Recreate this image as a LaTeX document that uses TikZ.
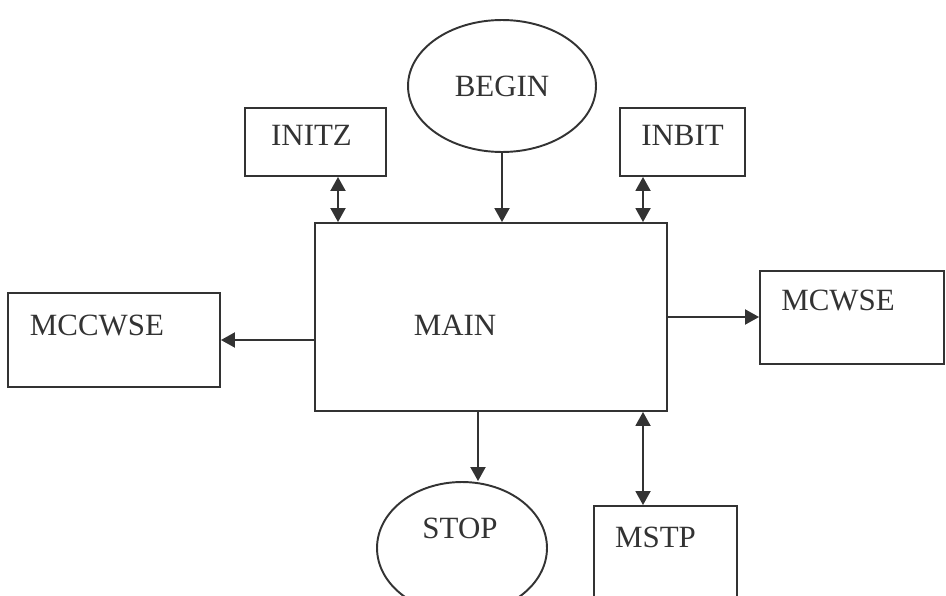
\documentclass[tikz,border=0pt]{standalone}
\usepackage{fontspec}
\setmainfont{Liberation Serif}
\usetikzlibrary{shapes.geometric,arrows.meta,positioning,calc}

\tikzset{
  module/.style={draw, rectangle, inner sep=0pt},
  terminal/.style={draw, ellipse, inner sep=0pt},
}

\begin{document}
\begin{tikzpicture}[x=0.02cm, y=-0.02cm, line width=1.1pt, color=black!80,
    font=\fontsize{17.6}{20}\selectfont,
    >={Triangle[length=0.28cm,width=0.3cm]}]
    \useasboundingbox (0,0) rectangle (946,595);
    \clip (0,0) rectangle (946,595);

    % Start and end
    \node[terminal, minimum width=3.76cm, minimum height=2.64cm] (begin) at (502,86) {BEGIN};
    \node[terminal, minimum width=3.4cm, minimum height=2.64cm,
          label={[shift={(-2,-20)}]center:STOP}] (stop) at (462,548) {};

    % Main routine
    \node[module, minimum width=7.04cm, minimum height=3.76cm,
          label={[shift={(-36,8)}]center:MAIN}] (main) at (491,317) {};

    % Subroutines
    \node[module, minimum width=2.82cm, minimum height=1.36cm,
          label={[shift={(-4,-7)}]center:INITZ}] (initz) at (315.5,142) {};
    \node[module, minimum width=2.5cm, minimum height=1.36cm,
          label={[shift={(0,-7)}]center:INBIT}] (inbit) at (682.5,142) {};
    \node[module, minimum width=4.24cm, minimum height=1.88cm,
          label={[shift={(-17,-15)}]center:MCCWSE}] (mccwse) at (114,340) {};
    \node[module, minimum width=3.68cm, minimum height=1.86cm,
          label={[shift={(-14,-17)}]center:MCWSE}] (mcwse) at (852,317.5) {};
    \node[module, minimum width=2.86cm, minimum height=2.68cm,
          label={[shift={(-10,-36)}]center:MSTP}] (mstp) at (665.5,573) {};

    % Calls
    \draw[->] (begin.south) -- (begin.south |- main.north);
    \draw[<->] ([xshift=0.45cm]initz.south) -- ([xshift=0.45cm]initz.south |- main.north);
    \draw[<->] ([xshift=-0.79cm]inbit.south) -- ([xshift=-0.79cm]inbit.south |- main.north);
    \draw[->] (main.west |- mccwse.east) -- (mccwse.east);
    \draw[->] (main.east) -- (main.east -| mcwse.west);
    \draw[->] ([xshift=0.32cm]stop.north |- main.south) -- ([xshift=0.32cm]stop.north);
    \draw[<->] ([xshift=-0.45cm]mstp.north |- main.south) -- ([xshift=-0.45cm]mstp.north);
\end{tikzpicture}
\end{document}
